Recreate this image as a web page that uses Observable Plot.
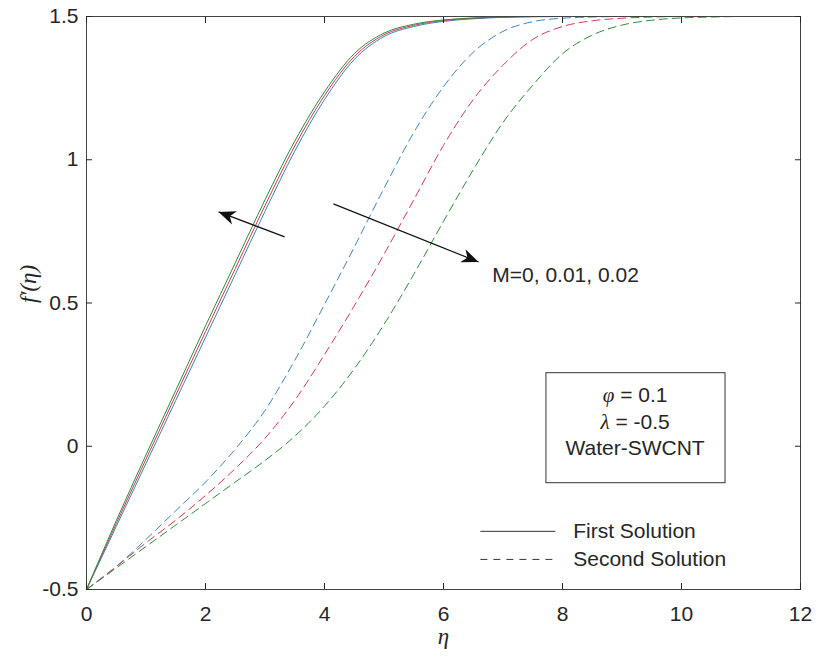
<!DOCTYPE html>
<html><head><meta charset="utf-8">
<script src="https://cdn.jsdelivr.net/npm/d3@7"></script>
<script src="https://cdn.jsdelivr.net/npm/@observablehq/plot@0.6"></script>
<style>body{margin:0;background:#fff;} #chart svg{display:block;}</style>
</head><body><div id="chart"></div>
<script>
// ---------- data ----------
const eta = [0,0.5,1,1.5,2,2.5,3,3.5,4,4.5,5,5.5,6,6.5,7,7.5,8,8.5,9,9.5,10,10.5,11,11.5,12];
const mValues = ["0","0.01","0.02"];
// First solution (solid)
const firstM0   = [-0.5,-0.28,-0.06,0.16,0.38,0.60,0.82,1.03,1.21,1.35,1.43,1.465,1.483,1.492,1.497,1.499,1.5,1.5,1.5,1.5,1.5,1.5,1.5,1.5,1.5];
const firstM001 = [-0.5,-0.27,-0.045,0.178,0.40,0.62,0.84,1.048,1.224,1.36,1.436,1.469,1.486,1.494,1.498,1.5,1.5,1.5,1.5,1.5,1.5,1.5,1.5,1.5,1.5];
const firstM002 = [-0.5,-0.26,-0.03,0.195,0.42,0.64,0.86,1.065,1.237,1.37,1.442,1.473,1.488,1.495,1.498,1.5,1.5,1.5,1.5,1.5,1.5,1.5,1.5,1.5,1.5];
// Second solution (dashed)
const secondM0   = [-0.5,-0.42,-0.325,-0.225,-0.125,-0.01,0.125,0.30,0.495,0.695,0.90,1.095,1.255,1.375,1.448,1.482,1.494,1.498,1.5,1.5,1.5,1.5,1.5,1.5,1.5];
const secondM001 = [-0.5,-0.42,-0.337,-0.258,-0.172,-0.078,0.028,0.16,0.32,0.49,0.67,0.86,1.05,1.21,1.33,1.42,1.465,1.485,1.494,1.498,1.5,1.5,1.5,1.5,1.5];
const secondM002 = [-0.5,-0.425,-0.35,-0.275,-0.2,-0.125,-0.05,0.035,0.14,0.27,0.425,0.60,0.785,0.965,1.13,1.26,1.37,1.435,1.47,1.487,1.495,1.498,1.5,1.5,1.5];

const xTicks = [0,2,4,6,8,10,12];
const xTickLabels = ["0","2","4","6","8","10","12"];
const yTicks = [-0.5,0,0.5,1,1.5];
const yTickLabels = ["-0.5","0","0.5","1","1.5"];
const xLabel = "η";
const yLabel = "f′(η)";
const legendLabels = ["First Solution","Second Solution"];
const boxLines = ["φ = 0.1","λ = -0.5","Water-SWCNT"];
const annotationText = "M=0, 0.01, 0.02";

// ---------- layout / style ----------
const W = 816, H = 662, mL = 86, mR = 16, mT = 16, mB = 73;
const colors = {"0": "#3a86b8", "0.01": "#d2394f", "0.02": "#2e8b3a"};
const ink = "#262626";
const FONT = "'Liberation Sans', Arial, Helvetica, sans-serif";
const SERIF = "'Liberation Serif','DejaVu Serif',serif";
const FS = 21;

const firstSets = [firstM0, firstM001, firstM002];
const secondSets = [secondM0, secondM001, secondM002];
const toRows = (sets, sol) => sets.flatMap((vals, k) => eta.map((e, i) => ({eta: e, f: vals[i], m: mValues[k], key: sol + mValues[k]})));
const firstRows = toRows(firstSets, "first");
const secondRows = toRows(secondSets, "second");

// annotation geometry (data coordinates)
const arrows = [
  {x1: 3.33, y1: 0.731, x2: 2.22, y2: 0.818},
  {x1: 4.15, y1: 0.846, x2: 6.59, y2: 0.643}
];
const xs = Plot.scale({x: {domain: [0, 12], range: [mL, W - mR]}});
const ys = Plot.scale({y: {domain: [-0.5, 1.5], range: [H - mB, mT]}});
arrows.forEach(a => {
  a.angle = Math.atan2(ys.apply(a.y2) - ys.apply(a.y1), xs.apply(a.x2) - xs.apply(a.x1)) * 180 / Math.PI;
});
const arrowHead = {
  draw(ctx) {
    ctx.moveTo(0, 0);
    ctx.lineTo(-17, -7);
    ctx.lineTo(-12, 0);
    ctx.lineTo(-17, 7);
    ctx.closePath();
  }
};

const box = {x1: 7.73, x2: 10.74, y1: -0.129, y2: 0.255};
const boxTextX = 9.22, boxTextY = [0.178, 0.084, -0.007];
const legendX1 = 6.62, legendX2 = 7.88, legendTextX = 8.18, legendY = [-0.297, -0.395];

const tickAxis = (axisFn, anchor, ticks) => axisFn({ticks, anchor, tickSize: -6, tickFormat: () => "", label: null, stroke: ink, strokeWidth: 1});

const chart = Plot.plot({
  width: W, height: H,
  marginLeft: mL, marginRight: mR, marginTop: mT, marginBottom: mB,
  style: {fontFamily: FONT, fontSize: FS + "px", color: ink, background: "#fff", overflow: "visible"},
  x: {domain: [0, 12]},
  y: {domain: [-0.5, 1.5]},
  marks: [
    // box annotation
    Plot.rect([box], {x1: "x1", x2: "x2", y1: "y1", y2: "y2", fill: "#fff", stroke: "#333", strokeWidth: 1}),
    Plot.text(boxLines, {x: () => boxTextX, y: (d, i) => boxTextY[i], text: d => d, fontSize: FS, fill: ink, textAnchor: "middle"}),
    // curves
    Plot.line(secondRows, {x: "eta", y: "f", z: "key", stroke: d => colors[d.m], strokeWidth: 1, strokeDasharray: "8,5", curve: "monotone-x"}),
    Plot.line(firstRows, {x: "eta", y: "f", z: "key", stroke: d => colors[d.m], strokeWidth: 1, curve: "monotone-x"}),
    // legend
    Plot.link([legendLabels[0]], {x1: () => legendX1, x2: () => legendX2, y1: () => legendY[0], y2: () => legendY[0], stroke: "#333", strokeWidth: 1}),
    Plot.link([legendLabels[1]], {x1: () => legendX1, x2: () => legendX2, y1: () => legendY[1], y2: () => legendY[1], stroke: "#333", strokeWidth: 1, strokeDasharray: "7,6"}),
    Plot.text(legendLabels, {x: () => legendTextX, y: (d, i) => legendY[i], text: d => d, textAnchor: "start", fontSize: FS, fill: ink}),
    // arrows
    Plot.link(arrows, {x1: "x1", y1: "y1", x2: "x2", y2: "y2", stroke: "#111", strokeWidth: 1.2}),
    Plot.dot(arrows, {x: "x2", y: "y2", symbol: arrowHead, rotate: "angle", fill: "#111", stroke: "none", r: 5}),
    Plot.text([annotationText], {x: () => 6.82, y: () => 0.598, text: d => d, textAnchor: "start", fontSize: FS, fill: ink}),
    // frame & axes
    Plot.frame({stroke: "#444", strokeWidth: 1}),
    tickAxis(Plot.axisX, "bottom", xTicks),
    tickAxis(Plot.axisX, "top", xTicks),
    tickAxis(Plot.axisY, "left", yTicks),
    tickAxis(Plot.axisY, "right", yTicks),
    Plot.axisX({ticks: xTicks, anchor: "bottom", tickSize: 0, tickPadding: 17, tickFormat: d => xTickLabels[xTicks.indexOf(d)], label: null, fontSize: FS, fill: ink}),
    Plot.axisY({ticks: yTicks, anchor: "left", tickSize: 0, tickPadding: 8, tickFormat: d => yTickLabels[yTicks.indexOf(d)], label: null, fontSize: FS, fill: ink}),
    // axis titles
    Plot.text([xLabel], {frameAnchor: "bottom", dy: 54, text: d => d, fontFamily: SERIF, fontStyle: "italic", fontSize: 23, fill: ink}),
    Plot.text([yLabel], {frameAnchor: "left", dx: -58, rotate: -90, text: d => d, fontFamily: SERIF, fontStyle: "italic", fontSize: 23, fill: ink})
  ]
});

// Greek symbols in the parameter box: italic serif
chart.querySelectorAll("text").forEach(t => {
  const s = t.textContent;
  if (s && (s.startsWith("φ") || s.startsWith("λ"))) {
    t.textContent = "";
    const NS = "http://www.w3.org/2000/svg";
    const g = document.createElementNS(NS, "tspan");
    g.setAttribute("font-family", SERIF);
    g.setAttribute("font-style", "italic");
    g.textContent = s[0];
    const r = document.createElementNS(NS, "tspan");
    r.textContent = s.slice(1);
    t.appendChild(g); t.appendChild(r);
  }
});
document.getElementById("chart").appendChild(chart);
</script>
</body></html>
